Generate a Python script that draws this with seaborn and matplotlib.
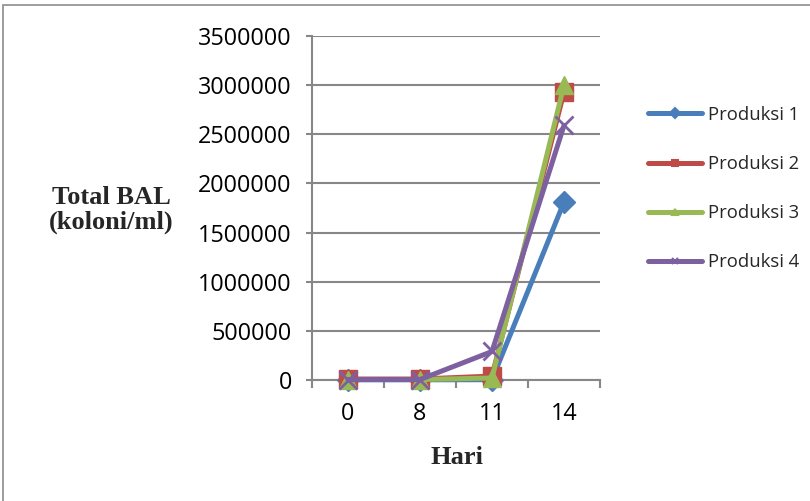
import matplotlib
matplotlib.use("Agg")
import matplotlib.pyplot as plt
from matplotlib.lines import Line2D
from matplotlib.patches import Rectangle
import seaborn as sns
import pandas as pd

# Days of observation and BAL counts (koloni/ml) per production batch
hari = ["0", "8", "11", "14"]
produksi_1 = [2000, 2000, 3000, 1810000]
produksi_2 = [10000, 10000, 40000, 2930000]
produksi_3 = [5000, 5000, 20000, 3000000]
produksi_4 = [5000, 5000, 290000, 2590000]

series_names = ["Produksi 1", "Produksi 2", "Produksi 3", "Produksi 4"]
series_values = [produksi_1, produksi_2, produksi_3, produksi_4]
colors = ["#4A7EBB", "#BE4B48", "#98B954", "#7D60A0"]
markers = ["D", "s", "^", "x"]
marker_sizes = [11, 13, 13, 13]

sns.set_theme(style="white")
plt.rcParams["font.family"] = ["Open Sans", "DejaVu Sans"]

W, H = 810, 501
fig = plt.figure(figsize=(W / 100, H / 100), dpi=100)
ax = fig.add_axes([312 / W, 1 - 380 / H, (600 - 312) / W, (380 - 36) / H])

grey = "#878787"

for name, vals, c, m, ms in zip(series_names, series_values, colors, markers, marker_sizes):
    df = pd.DataFrame({"Hari": hari, "BAL": vals})
    sns.lineplot(data=df, x="Hari", y="BAL", ax=ax, color=c, lw=3.6,
                 marker=m, markersize=ms, markeredgecolor=c,
                 markeredgewidth=2.0 if m == "x" else 1.0,
                 legend=False, clip_on=False, zorder=3)

ax.set_xlim(-0.5, 3.5)
ax.set_ylim(0, 3500000)
ax.set_yticks(range(0, 3500001, 500000))
ax.set_yticklabels([str(v) for v in range(0, 3500001, 500000)])
ax.set_xticks(range(len(hari)))
ax.set_xticklabels(hari)
ax.set_xticks([i - 0.5 for i in range(len(hari) + 1)], minor=True)

ax.grid(axis="y", color=grey, lw=1.5)
ax.grid(axis="x", visible=False)
ax.set_axisbelow(True)
for side in ["top", "right"]:
    ax.spines[side].set_visible(False)
for side in ["left", "bottom"]:
    ax.spines[side].set_color(grey)
    ax.spines[side].set_linewidth(1.5)

ax.tick_params(axis="y", which="major", left=True, length=4.5, width=1.5,
               color=grey, labelsize=16.8, pad=10, labelcolor="black")
ax.tick_params(axis="x", which="major", bottom=False, length=0,
               labelsize=16.8, pad=16, labelcolor="black")
ax.tick_params(axis="x", which="minor", bottom=True, length=6, width=1.5,
               color=grey)
ax.set_xlabel("")
ax.set_ylabel("")

serif = ["Liberation Serif", "DejaVu Serif"]
fig.text(111 / W, 1 - 210 / H, "Total BAL\n(koloni/ml)", ha="center", va="center",
         family=serif, fontweight="bold", fontsize=19, linespacing=1.12)
fig.text(457 / W, 1 - 458 / H, "Hari", ha="center", va="center",
         family=serif, fontweight="bold", fontsize=19)

handles = [Line2D([], [], color=c, lw=3.6, marker=m, markersize=5,
                  markeredgewidth=1.5, markeredgecolor=c)
           for c, m in zip(colors, markers)]
fig.legend(handles, series_names, loc="center left",
           bbox_to_anchor=(648 / W, 1 - 188.5 / H), frameon=False,
           fontsize=13.3, handlelength=2.95, handletextpad=0.3,
           labelspacing=1.68, borderpad=0, borderaxespad=0)

# Outer frame of the chart area
fig.patches.append(Rectangle((3 / W, -0.1), 1.2, 1 - 5 / H + 0.1,
                             transform=fig.transFigure, fill=False,
                             edgecolor="#8c8c8c", lw=1.2, zorder=0))

fig.savefig("out.png", dpi=100)
